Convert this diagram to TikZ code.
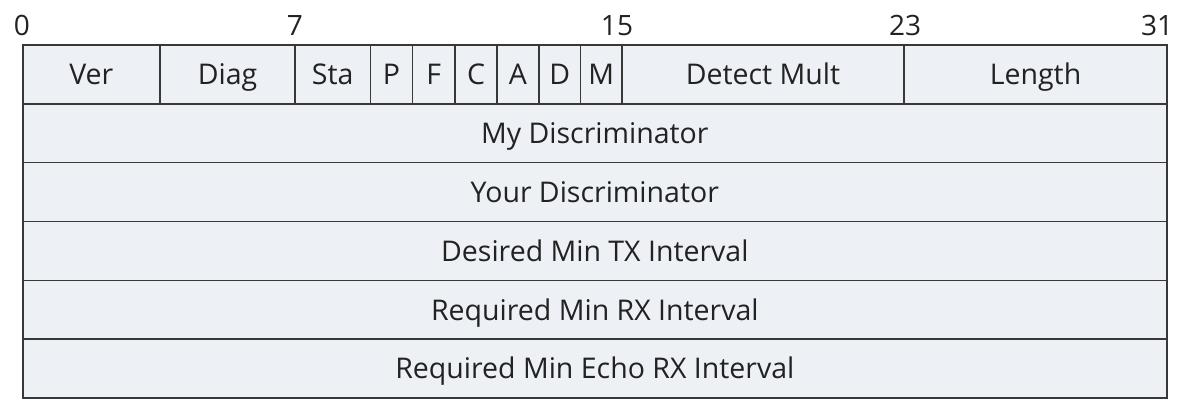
\documentclass[tikz,border=0pt]{standalone}
\usepackage{fontspec}
\setmainfont{Open Sans}
\definecolor{cellfill}{HTML}{EDF0F5}
\definecolor{cellline}{HTML}{383838}
\definecolor{txt}{HTML}{222222}
\tikzset{
  field/.style={draw=cellline, fill=cellfill, line width=1.9pt, inner sep=0pt,
    font=\fontsize{28.5}{28.5}\selectfont, text=txt, text height=20.3pt, text depth=0pt},
  bitnum/.style={font=\fontsize{28}{28}\selectfont, text=txt, inner sep=0pt,
    text height=20pt, text depth=0pt}
}
\newcommand{\fld}[5]{% name, x1, x2, y1, text
  \node[field, minimum width={(#3-#2)*1pt}, minimum height=59pt] (#1) at ({(#2+#3)/2}, {-(#4+29.5)}) {#5};}
\begin{document}
\begin{tikzpicture}[x=1pt,y=1pt]
\useasboundingbox (0,0) rectangle (1185,-402);
% row 1
\fld{ver}{22.7}{160}{45}{Ver}
\fld{diag}{160}{295}{45}{Diag}
\fld{sta}{295}{370.5}{45}{Sta}
\fld{p}{370.5}{412.5}{45}{P}
\fld{f}{412.5}{455}{45}{F}
\fld{c}{455}{497}{45}{C}
\fld{a}{497}{539}{45}{A}
\fld{d}{539}{580.5}{45}{D}
\fld{m}{580.5}{622}{45}{M}
\fld{mult}{622}{904}{45}{Detect Mult}
\fld{len}{904}{1167}{45}{Length}
% full rows
\fld{mydisc}{22.7}{1167}{104}{My Discriminator}
\fld{yourdisc}{22.7}{1167}{162.5}{Your Discriminator}
\fld{tx}{22.7}{1167}{221.5}{Desired Min TX Interval}
\fld{rx}{22.7}{1167}{280.5}{Required Min RX Interval}
\fld{echo}{22.7}{1167}{339}{Required Min Echo RX Interval}
% bit numbers
\node[bitnum] (b0) at (22,-25) {0};
\node[bitnum] (b7) at (295,-25) {7};
\node[bitnum] (b15) at (617,-25) {15};
\node[bitnum] (b23) at (905,-25) {23};
\node[bitnum] (b31) at (1157,-25) {31};
\end{tikzpicture}
\end{document}
